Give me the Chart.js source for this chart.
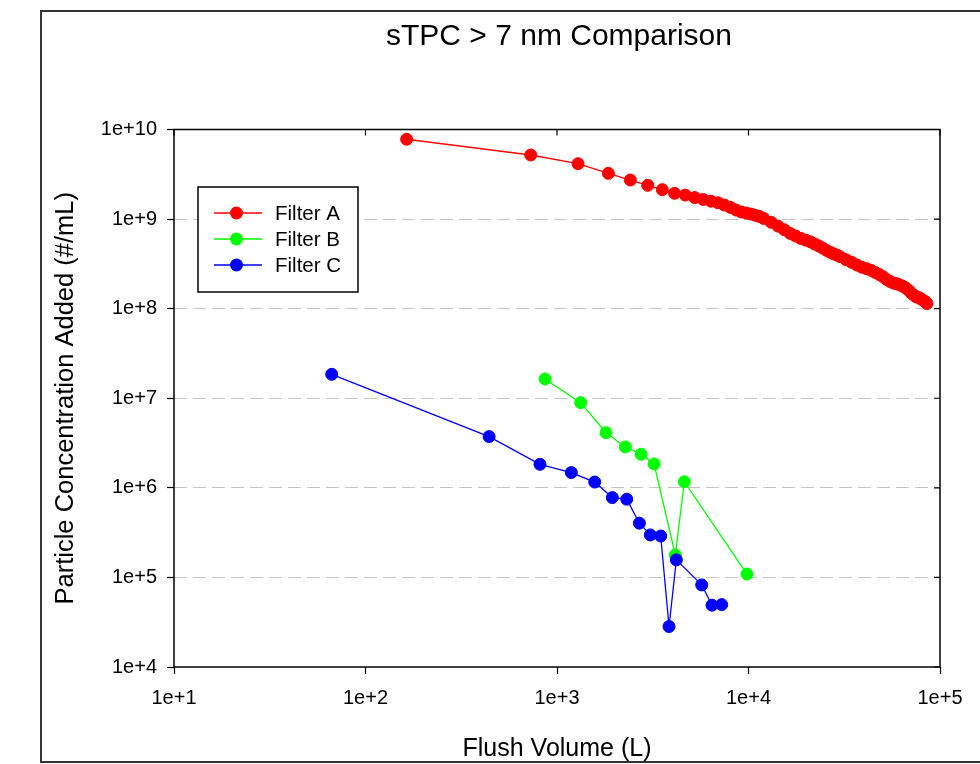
<!DOCTYPE html>
<html>
<head>
<meta charset="utf-8">
<script src="https://cdn.jsdelivr.net/npm/chart.js@4.4.1/dist/chart.umd.min.js"></script>
<style>
  html, body { margin: 0; padding: 0; background: #fff; }
  canvas { display: block; }
</style>
</head>
<body>
<canvas id="chart" width="980" height="764" style="width:980px;height:764px"></canvas>
<script>
// Particle concentration added vs. flush volume, three filters
const chartTitle = 'sTPC > 7 nm Comparison';
const xAxisTitle = 'Flush Volume (L)';
const yAxisTitle = 'Particle Concentration Added (#/mL)';
const seriesNames = ['Filter A', 'Filter B', 'Filter C'];
const seriesColors = ['#ff0000', '#00ff00', '#0000ff'];

const filterAVolume = [
  164, 729, 1288, 1854, 2415, 2978, 3548, 4112, 4676, 5240, 5804, 6368, 6932,
  7496, 8060, 8624, 9188, 9752, 10316, 10880, 11444, 12008, 13136, 14264,
  15392, 16520, 17648, 18776, 19904, 21032, 22160, 23288, 24416, 25544, 26672,
  27800, 28928, 30056, 32312, 34568, 36824, 39080, 41336, 43592, 45848, 48104,
  50360, 52616, 54872, 57128, 59384, 61640, 63896, 66152, 68408, 70664, 72920,
  75176, 77432, 79688, 81944, 84200, 85500
];
const filterAConc = [
  7.78e9, 5.19e9, 4.15e9, 3.24e9, 2.73e9, 2.38e9, 2.13e9, 1.94e9, 1.853e9, 1.737e9,
  1.655e9, 1.584e9, 1.520e9, 1.433e9, 1.348e9, 1.260e9, 1.200e9, 1.167e9, 1.137e9,
  1.100e9, 1.066e9, 1.016e9, 9.21e8, 8.35e8, 7.60e8, 6.92e8, 6.46e8, 6.08e8, 5.82e8,
  5.58e8, 5.27e8, 5.01e8, 4.74e8, 4.48e8, 4.27e8, 4.10e8, 3.96e8, 3.81e8, 3.52e8,
  3.29e8, 3.07e8, 2.90e8, 2.79e8, 2.68e8, 2.54e8, 2.41e8, 2.27e8, 2.12e8, 2.01e8,
  1.93e8, 1.90e8, 1.84e8, 1.78e8, 1.71e8, 1.61e8, 1.50e8, 1.42e8, 1.35e8, 1.33e8,
  1.28e8, 1.23e8, 1.19e8, 1.14e8
];

const filterBVolume = [866, 1330, 1803, 2275, 2750, 3213, 4150, 4623, 9820];
const filterBConc = [1.64e7, 8.93e6, 4.13e6, 2.86e6, 2.37e6, 1.85e6, 1.78e5, 1.17e6, 1.09e5];

const filterCVolume = [66.6, 442, 815, 1188, 1574, 1945, 2313, 2692, 3071, 3480, 3846, 4199, 5697, 6448, 7244];
const filterCConc = [1.85e7, 3.73e6, 1.83e6, 1.48e6, 1.16e6, 7.78e5, 7.47e5, 4.03e5, 2.98e5, 2.90e5, 2.83e4, 1.57e5, 8.25e4, 4.90e4, 4.97e4];

const xTickValues = [1e1, 1e2, 1e3, 1e4, 1e5];
const xTickLabels = ['1e+1', '1e+2', '1e+3', '1e+4', '1e+5'];
const yTickValues = [1e4, 1e5, 1e6, 1e7, 1e8, 1e9, 1e10];
const yTickLabels = ['1e+4', '1e+5', '1e+6', '1e+7', '1e+8', '1e+9', '1e+10'];

const FONT = "'Liberation Sans', Arial, Helvetica, sans-serif";

function toPoints(xs, ys) {
  return xs.map((x, i) => ({ x: x, y: ys[i] }));
}

function makeDataset(idx, xs, ys, order) {
  return {
    label: seriesNames[idx],
    data: toPoints(xs, ys),
    showLine: true,
    borderColor: seriesColors[idx],
    backgroundColor: seriesColors[idx],
    borderWidth: 1.3,
    pointRadius: 6,
    pointBorderWidth: 1,
    pointBorderColor: seriesColors[idx],
    pointBackgroundColor: seriesColors[idx],
    pointHoverRadius: 6,
    order: order
  };
}

function labelFor(values, labels) {
  return (v) => {
    const i = values.findIndex(t => Math.abs(Math.log10(t) - Math.log10(v)) < 1e-6);
    return i >= 0 ? labels[i] : '';
  };
}

// Outer frame, title, plot box, inner ticks on top/right, legend
const decorations = {
  id: 'decorations',
  beforeDraw(chart) {
    const ctx = chart.ctx;
    ctx.save();
    ctx.fillStyle = '#ffffff';
    ctx.fillRect(0, 0, chart.width, chart.height);
    ctx.restore();
  },
  afterDraw(chart) {
    const ctx = chart.ctx;
    const a = chart.chartArea;
    const xs = chart.scales.x, ys = chart.scales.y;
    ctx.save();

    // outer frame
    ctx.strokeStyle = '#333333';
    ctx.lineWidth = 2;
    ctx.strokeRect(41, 11, 960, 751);

    // title
    ctx.fillStyle = '#000';
    ctx.font = '30px ' + FONT;
    ctx.textAlign = 'center';
    ctx.textBaseline = 'middle';
    ctx.fillText(chartTitle, 559, 37);

    // plot box
    ctx.strokeStyle = '#000';
    ctx.lineWidth = 1.5;
    ctx.strokeRect(a.left, a.top, a.right - a.left, a.bottom - a.top);

    // inward ticks on the top and right edges
    ctx.lineWidth = 1.2;
    ctx.beginPath();
    xTickValues.forEach(v => {
      const p = xs.getPixelForValue(v);
      ctx.moveTo(p, a.top);
      ctx.lineTo(p, a.top + 6);
    });
    yTickValues.forEach(v => {
      const p = ys.getPixelForValue(v);
      ctx.moveTo(a.right, p);
      ctx.lineTo(a.right - 6, p);
    });
    ctx.stroke();

    // legend
    const bx = 198, by = 187, bw = 160, bh = 105;
    ctx.fillStyle = '#fff';
    ctx.fillRect(bx, by, bw, bh);
    ctx.strokeStyle = '#000';
    ctx.lineWidth = 1.5;
    ctx.strokeRect(bx, by, bw, bh);
    ctx.font = '20.5px ' + FONT;
    ctx.textAlign = 'left';
    ctx.textBaseline = 'middle';
    chart.data.datasets.forEach((ds, i) => {
      const y = by + 26 + i * 26;
      ctx.strokeStyle = ds.borderColor;
      ctx.lineWidth = 1.3;
      ctx.beginPath();
      ctx.moveTo(bx + 16, y);
      ctx.lineTo(bx + 64, y);
      ctx.stroke();
      ctx.fillStyle = ds.pointBackgroundColor;
      ctx.beginPath();
      ctx.arc(bx + 38.5, y, 6.5, 0, Math.PI * 2);
      ctx.fill();
      ctx.fillStyle = '#000';
      ctx.fillText(ds.label, bx + 77, y + 1);
    });

    ctx.restore();
  }
};

new Chart(document.getElementById('chart'), {
  type: 'scatter',
  data: {
    datasets: [
      makeDataset(0, filterAVolume, filterAConc, 2),
      makeDataset(1, filterBVolume, filterBConc, 1),
      makeDataset(2, filterCVolume, filterCConc, 0)
    ]
  },
  options: {
    responsive: false,
    animation: false,
    devicePixelRatio: 1,
    layout: { padding: { top: 129.5, right: 40, bottom: 0, left: 0 } },
    plugins: {
      legend: { display: false },
      title: { display: false },
      tooltip: { enabled: false }
    },
    scales: {
      x: {
        type: 'logarithmic',
        min: 10,
        max: 1e5,
        afterBuildTicks: (s) => { s.ticks = xTickValues.map(v => ({ value: v })); },
        afterFit: (s) => { s.height = 97; },
        border: { display: false },
        grid: {
          drawOnChartArea: false,
          drawTicks: true,
          tickLength: 7,
          tickColor: '#000',
          tickWidth: 1.2
        },
        ticks: {
          autoSkip: false,
          maxRotation: 0,
          padding: 12,
          color: '#000',
          font: { family: FONT, size: 20 },
          callback: labelFor(xTickValues, xTickLabels)
        },
        title: {
          display: true,
          text: xAxisTitle,
          color: '#000',
          font: { family: FONT, size: 25 },
          padding: { top: 0, bottom: 0 }
        }
      },
      y: {
        type: 'logarithmic',
        min: 1e4,
        max: 1e10,
        afterBuildTicks: (s) => { s.ticks = yTickValues.map(v => ({ value: v })); },
        afterFit: (s) => { s.width = 174; },
        border: { display: false, dash: [13, 6] },
        grid: {
          color: (c) => (c.tick && (c.tick.value === 1e4 || c.tick.value === 1e10)) ? 'rgba(0,0,0,0)' : '#c9c1c9',
          lineWidth: 1,
          drawTicks: true,
          tickLength: 7,
          tickColor: '#000',
          tickWidth: 1.2,
          tickBorderDash: []
        },
        ticks: {
          autoSkip: false,
          padding: 10,
          color: '#000',
          font: { family: FONT, size: 20 },
          callback: labelFor(yTickValues, yTickLabels)
        },
        title: {
          display: true,
          text: yAxisTitle,
          color: '#000',
          font: { family: FONT, size: 25.5 },
          padding: { top: 51, bottom: 0 }
        }
      }
    }
  },
  plugins: [decorations]
});
</script>
</body>
</html>
